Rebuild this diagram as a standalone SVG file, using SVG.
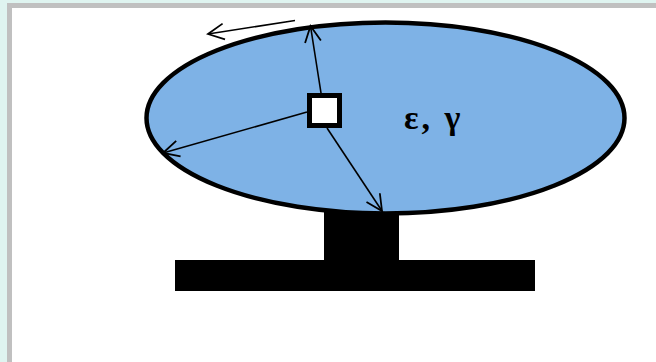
<svg xmlns="http://www.w3.org/2000/svg" width="656" height="362" viewBox="0 0 656 362">
<style>
.ln{stroke:#000;stroke-width:1.6;fill:none}
.lbl{font-family:"Liberation Serif",serif;font-weight:bold;font-size:34px;letter-spacing:3px;fill:#000}
</style>
<defs>
<marker id="ah" viewBox="0 0 20 20" refX="18" refY="10" markerWidth="20" markerHeight="20" markerUnits="userSpaceOnUse" orient="auto">
<path d="M2,2 L18,10 L2,18" fill="none" stroke="#000" stroke-width="1.8"/>
</marker>
</defs>
<rect x="0" y="0" width="656" height="362" fill="#dff4f0"/>
<rect x="7" y="3" width="649" height="359" fill="#c0c0c0"/>
<rect x="12" y="8" width="644" height="354" fill="#fff"/>
<g id="pedestal">
<rect x="324" y="200" width="75" height="62" fill="#000"/>
<rect x="175" y="260" width="360" height="31" fill="#000"/>
</g>
<g id="body">
<ellipse cx="385.5" cy="118" rx="239" ry="95.5" fill="#7eb2e6" stroke="#000" stroke-width="4.5"/>
<text class="lbl" x="404" y="129">ε, γ</text>
</g>
<g id="connectors">
<line class="ln" x1="321" y1="93" x2="310.5" y2="26" marker-end="url(#ah)"/>
<line class="ln" x1="307" y1="112" x2="163" y2="153" marker-end="url(#ah)"/>
<line class="ln" x1="327" y1="128" x2="382" y2="211" marker-end="url(#ah)"/>
<line class="ln" x1="295" y1="20.5" x2="208" y2="34" marker-end="url(#ah)"/>
</g>
<g id="source">
<rect x="309.5" y="95.5" width="30" height="30" fill="#fff" stroke="#000" stroke-width="5"/>
</g>
</svg>
